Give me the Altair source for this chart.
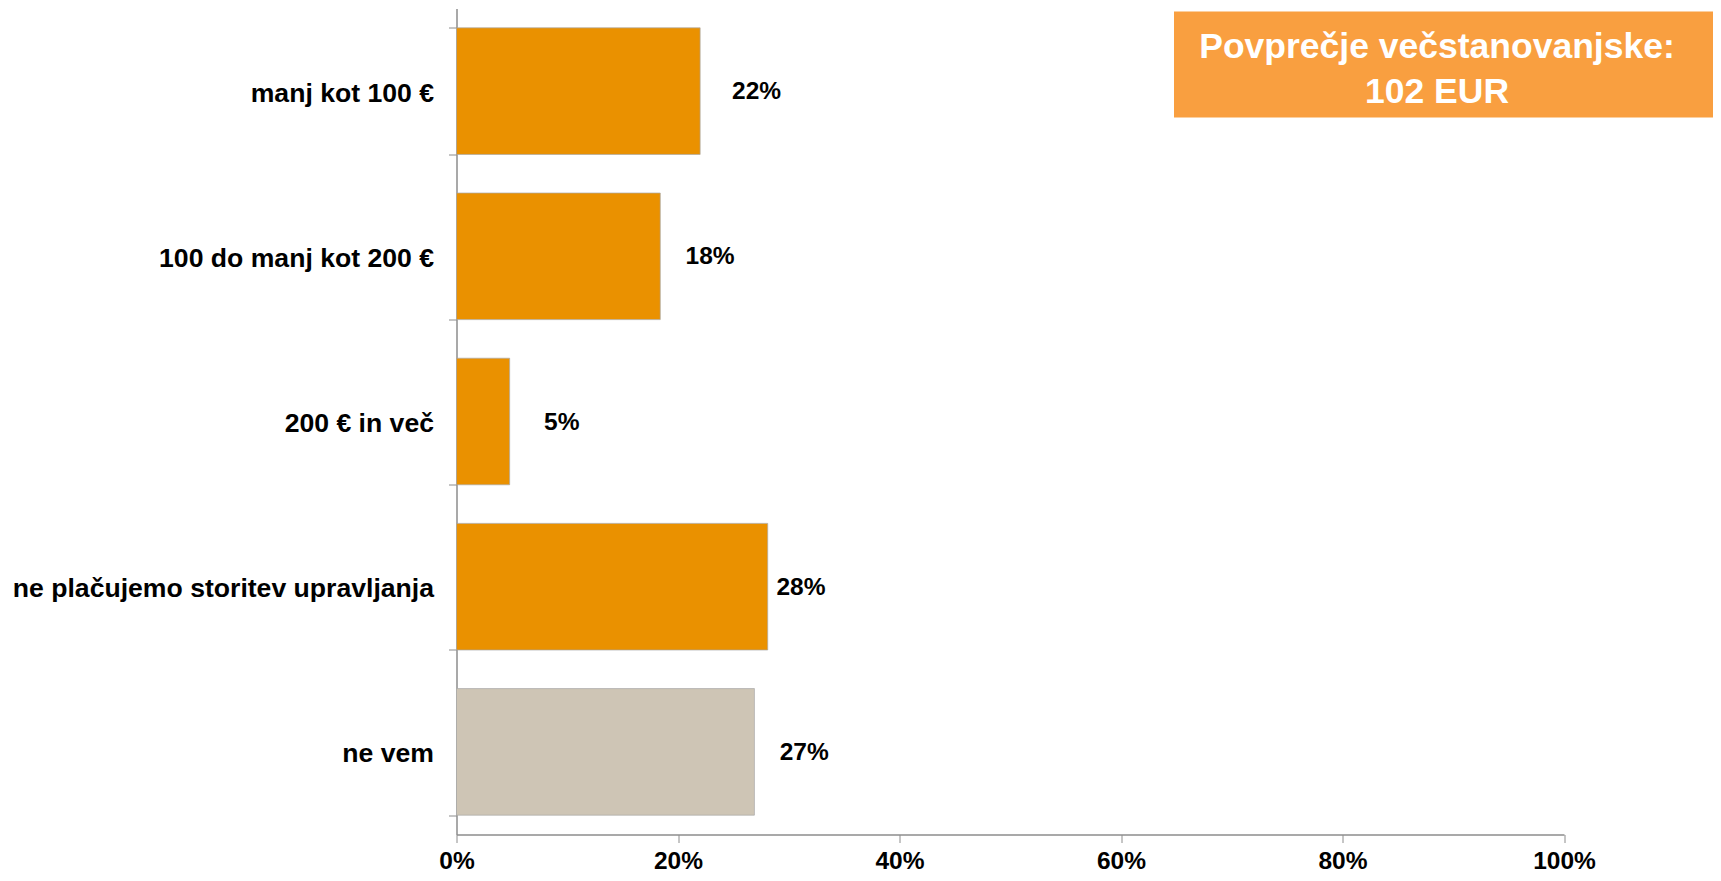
import altair as alt
import pandas as pd

# ---- data ----
categories = [
    "manj kot 100 €",
    "100 do manj kot 200 €",
    "200 € in več",
    "ne plačujemo storitev upravljanja",
    "ne vem",
]
values = [22.0, 18.4, 4.8, 28.1, 26.9]          # bar lengths in %
labels = ["22%", "18%", "5%", "28%", "27%"]      # printed value labels
label_pos = [27.1, 22.9, 9.5, 31.1, 31.4]        # where the labels sit (in %)
groups = ["pay", "pay", "pay", "pay", "unknown"]
x_ticks = [0, 20, 40, 60, 80, 100]
box_lines = ["Povprečje večstanovanjske:", "102 EUR"]

FONT = "Liberation Sans"
W, H = 1107.5, 826.0

df = pd.DataFrame({
    "cat": categories,
    "val": values,
    "lab": labels,
    "lpos": label_pos,
    "grp": groups,
})

y_enc = alt.Y(
    "cat:N",
    sort=categories,
    title=None,
    scale=alt.Scale(paddingInner=0.2335, paddingOuter=0.117),
    axis=alt.Axis(
        tickBand="extent",
        tickSize=8,
        tickColor="#8c8c8c",
        domainColor="#8c8c8c",
        domainWidth=1.5,
        labelPadding=15,
        labelFont=FONT,
        labelFontSize=26.6,
        labelFontWeight="bold",
        labelColor="#000000",
        labelLimit=600,
        labelOffset=2,
    ),
)

bars = alt.Chart(df).mark_bar(
    stroke="#a8a8a8", strokeWidth=1, strokeOpacity=0.7
).encode(
    x=alt.X(
        "val:Q",
        title=None,
        scale=alt.Scale(domain=[0, 100], nice=False),
        axis=alt.Axis(
            values=x_ticks,
            labelExpr="datum.value + '%'",
            labelFlush=False,
            labelOverlap=False,
            grid=False,
            tickSize=8,
            tickColor="#8c8c8c",
            domainColor="#8c8c8c",
            domainWidth=1.5,
            labelPadding=7,
            labelFont=FONT,
            labelFontSize=24.5,
            labelFontWeight="bold",
            labelColor="#000000",
            labelBaseline="top",
            labelAlign="center",
        ),
    ),
    y=y_enc,
    color=alt.Color(
        "grp:N",
        scale=alt.Scale(domain=["pay", "unknown"], range=["#EA9100", "#CEC5B5"]),
        legend=None,
    ),
)

texts = alt.Chart(df).mark_text(
    font=FONT, fontSize=24.5, fontWeight="bold", color="#000000",
    align="center", baseline="middle", dy=1,
).encode(
    x=alt.X("lpos:Q"),
    y=alt.Y("cat:N", sort=categories),
    text="lab:N",
)

one = pd.DataFrame({"k": [0]})
box = alt.Chart(one).mark_rect(color="#F99F40").encode(
    x=alt.value(717.5), x2=alt.value(1260.0),
    y=alt.value(3.0), y2=alt.value(109.0),
)
box_text = alt.Chart(one).mark_text(
    text=box_lines, font=FONT, fontSize=35.5, fontWeight="bold",
    color="#ffffff", align="center", baseline="alphabetic", lineHeight=45,
).encode(x=alt.value(980.5), y=alt.value(49.0))

chart = alt.layer(bars, texts, box, box_text).properties(
    width=W, height=H,
    autosize=alt.AutoSizeParams(type="none"),
    padding={"left": 448.5, "top": 0.5, "right": 149, "bottom": 38.5},
).configure_view(stroke=None).resolve_scale(x="shared", y="shared")

chart.save("out.html", embed_options={"renderer": "svg", "actions": False})
